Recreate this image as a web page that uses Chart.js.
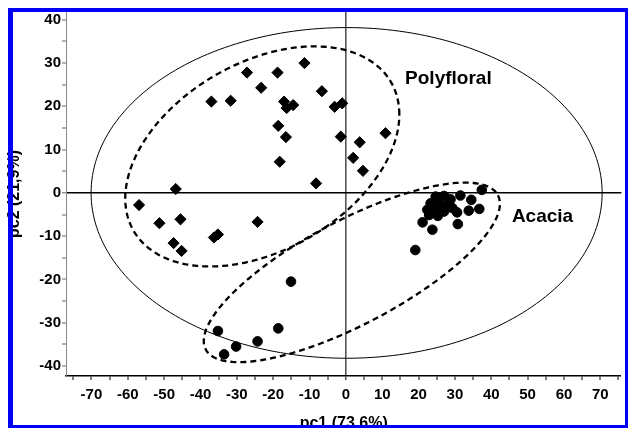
<!DOCTYPE html>
<html>
<head>
<meta charset="utf-8">
<script src="https://cdn.jsdelivr.net/npm/chart.js@4"></script>
<style>
  html, body { margin: 0; padding: 0; background: #fff; }
  canvas { display: block; }
</style>
</head>
<body>
<canvas id="c" width="628" height="428"></canvas>
<script>
// ---- data ----
const polyX = [-27.2,-37.0,-31.7,-11.4,-18.8,-23.3,-6.6,-17.0,-14.5,-16.3,-3.1,-1.0,-18.6,-16.5,-1.4,3.8,10.9,2.0,4.7,-18.2,-8.2,-46.8,-56.9,-51.3,-45.5,-24.3,-36.3,-35.2,-47.4,-45.2];
const polyY = [27.8,21.1,21.3,30.0,27.8,24.3,23.5,21.1,20.3,19.6,19.9,20.7,15.5,12.9,13.0,11.7,13.8,8.1,5.1,7.2,2.2,0.9,-2.8,-7.0,-6.1,-6.7,-10.3,-9.6,-11.6,-13.4];

const acaciaX = [-15.1,-35.2,-18.6,-24.3,-30.2,-33.5,19.1,23.8,21.1,30.8,25.3,33.8,36.7,30.6,34.5,31.5,37.4,24.7,27.0,28.8,23.3,25.6,27.9,22.4,24.7,27.0,29.3,22.9];
const acaciaY = [-20.5,-31.9,-31.3,-34.3,-35.5,-37.3,-13.2,-8.5,-6.8,-7.2,-5.3,-4.1,-3.7,-4.5,-1.6,-0.6,0.7,-0.85,-0.7,-1.5,-2.4,-2.4,-2.8,-3.9,-3.8,-4.3,-3.5,-5.1];

const xTicks = [-70,-60,-50,-40,-30,-20,-10,0,10,20,30,40,50,60,70];
const yTicks = [-40,-30,-20,-10,0,10,20,30,40];

// ellipses: [centerX, centerY, u.x, u.y, v.x, v.y] in data units
const hotelling = [0.2, 0.0, 70.3, 0.0, 0.0, 38.2];
const polyEllipse = [-23.0, 8.43, 37.7, 9.7, 0.0, 23.5];
const acaciaEllipse = [1.64, -18.36, 40.2, 17.8, 6.59, -10.65];

const groupLabels = ['Polyfloral', 'Acacia'];
const groupLabelX = [28.2, 54.1];
const groupLabelY = [26.4, -5.5];

// ---- build ----
const fam = "'Liberation Sans', Arial, Helvetica, sans-serif";
Chart.defaults.font.family = fam;
Chart.defaults.color = '#000';

const toPts = (xs, ys) => xs.map((x, i) => ({x, y: ys[i]}));
const fmt = v => (v < 0 ? '-' + Math.abs(v) : String(v));

const overlay = {
  id: 'overlay',
  beforeDatasetsDraw(chart) {
    const {ctx, chartArea: a, scales: {x, y}} = chart;
    ctx.save();
    ctx.beginPath();
    ctx.rect(a.left, a.top, a.right - a.left, a.bottom - a.top);
    ctx.clip();
    const drawEll = (e, width, dash) => {
      ctx.beginPath();
      const n = 240;
      for (let i = 0; i <= n; i++) {
        const t = i / n * Math.PI * 2;
        const dx = e[0] + e[2] * Math.cos(t) + e[4] * Math.sin(t);
        const dy = e[1] + e[3] * Math.cos(t) + e[5] * Math.sin(t);
        const px = x.getPixelForValue(dx), py = y.getPixelForValue(dy);
        if (i === 0) ctx.moveTo(px, py); else ctx.lineTo(px, py);
      }
      ctx.closePath();
      ctx.lineWidth = width;
      ctx.setLineDash(dash);
      ctx.strokeStyle = '#000';
      ctx.stroke();
    };
    drawEll(hotelling, 1, []);
    drawEll(polyEllipse, 2.3, [6, 4]);
    drawEll(acaciaEllipse, 2.3, [6, 4]);
    ctx.setLineDash([]);
    ctx.fillStyle = '#000';
    ctx.font = 'bold 19px ' + fam;
    ctx.textAlign = 'center';
    ctx.textBaseline = 'middle';
    groupLabels.forEach((t, i) => {
      ctx.fillText(t, x.getPixelForValue(groupLabelX[i]), y.getPixelForValue(groupLabelY[i]));
    });
    ctx.restore();
  },
  afterDraw(chart) {
    const ctx = chart.ctx;
    ctx.save();
    ctx.fillStyle = '#0000f5';
    ctx.fillRect(8, 8, 620, 4);    // top
    ctx.fillRect(8, 8, 5, 420);    // left
    ctx.fillRect(625, 8, 3, 420);  // right
    ctx.fillRect(8, 425, 620, 3);  // bottom
    ctx.restore();
  }
};

new Chart(document.getElementById('c'), {
  type: 'scatter',
  data: {
    datasets: [
      {
        label: 'Polyfloral',
        data: toPts(polyX, polyY),
        pointStyle: 'rectRot',
        pointRadius: 5.6,
        backgroundColor: '#000',
        borderColor: '#000',
        borderWidth: 1
      },
      {
        label: 'Acacia',
        data: toPts(acaciaX, acaciaY),
        pointStyle: 'circle',
        pointRadius: 4.8,
        backgroundColor: '#000',
        borderColor: '#000',
        borderWidth: 1
      }
    ]
  },
  options: {
    responsive: false,
    animation: false,
    devicePixelRatio: 1,
    layout: { padding: { top: 12, right: 3, left: 0, bottom: 0 } },
    plugins: { legend: { display: false }, tooltip: { enabled: false } },
    scales: {
      x: {
        type: 'linear',
        min: -77, max: 75.8,
        afterFit(s) { s.height = 52; },
        ticks: {
          stepSize: 5, includeBounds: false, autoSkip: false, maxRotation: 0,
          padding: 6,
          font: { size: 15, weight: 'bold' },
          callback: v => (xTicks.includes(v) ? fmt(v) : '')
        },
        grid: {
          drawOnChartArea: true,
          color: c => (c.tick && c.tick.value === 0 ? '#555' : 'rgba(0,0,0,0)'),
          lineWidth: c => (c.tick && c.tick.value === 0 ? 1.6 : 0),
          drawTicks: true, tickLength: 4, tickColor: '#000', tickWidth: 1
        },
        border: { display: true, color: '#000', width: 1.5 },
        title: {
          display: true, text: 'pc1 (73,6%)',
          font: { size: 16, weight: 'bold' },
          padding: { top: 0, bottom: -5.5 }
        }
      },
      y: {
        type: 'linear',
        min: -42.3, max: 41.8,
        afterFit(s) { s.width = 66; },
        ticks: {
          stepSize: 5, includeBounds: false, autoSkip: false,
          padding: 1,
          font: { size: 15, weight: 'bold' },
          callback: v => (yTicks.includes(v) ? fmt(v) : '')
        },
        grid: {
          drawOnChartArea: true,
          color: c => (c.tick && c.tick.value === 0 ? '#000' : 'rgba(0,0,0,0)'),
          lineWidth: c => (c.tick && c.tick.value === 0 ? 1.6 : 0),
          drawTicks: true, tickLength: 4, tickColor: '#666', tickWidth: 1
        },
        border: { display: true, color: '#888', width: 1 },
        title: {
          display: true, text: 'pc2 (21,9%)',
          font: { size: 16, weight: 'bold' },
          padding: { top: 5, bottom: 0 }
        }
      }
    }
  },
  plugins: [overlay]
});
</script>
</body>
</html>
